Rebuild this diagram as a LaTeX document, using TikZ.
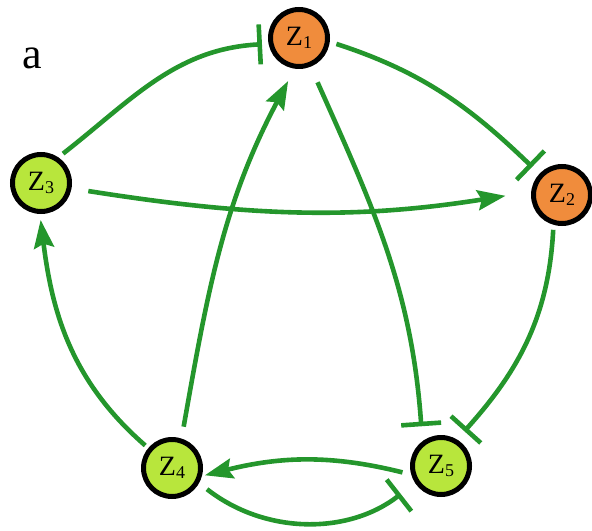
\documentclass[tikz,border=0pt]{standalone}
\usepackage{fontspec}
\setmainfont{LiberationSerif}[Extension=.ttf, UprightFont=*-Regular, BoldFont=*-Bold, ItalicFont=*-Italic]
\usepackage{xcolor}
\usepackage{tikz}
\usetikzlibrary{arrows.meta}
\definecolor{edgegreen}{RGB}{36,150,44}
\definecolor{zorange}{RGB}{240,140,60}
\definecolor{zlime}{RGB}{184,230,60}
\tikzstyle{activate} = [edgegreen, line width=2.3pt, -{Stealth[length=14pt,width=10pt,inset=2pt]}]
\tikzstyle{inhibit} = [edgegreen, line width=2.3pt, -{Bar[width=20pt,line width=2.3pt]}]
\newcommand{\zlabel}[1]{Z\raisebox{-0.2ex}{\fontsize{9}{9}\selectfont #1}}

\begin{document}
\begin{tikzpicture}[
    x=0.5pt, y=0.5pt,
    gene/.style={circle, draw=black, line width=2.5pt, minimum size=28.5pt, inner sep=0pt, font=\fontsize{14}{14}\selectfont},
    panel/.style={font=\fontsize{22}{22}\selectfont}
  ]
    \useasboundingbox (0,0) rectangle (592,530);
    \node[panel] (lbl) at (32,472) {a};

    % genes
    \node[gene, fill=zorange] (z1) at (299,492) {\zlabel{1}};
    \node[gene, fill=zorange] (z2) at (562,335) {\zlabel{2}};
    \node[gene, fill=zlime] (z3) at (41,347) {\zlabel{3}};
    \node[gene, fill=zlime] (z4) at (172,62) {\zlabel{4}};
    \node[gene, fill=zlime] (z5) at (441,64) {\zlabel{5}};

    % outer ring
    \draw[inhibit, shorten <=3pt, shorten >=3.3pt] (z3.56) to[out=38, in=183] (z1.191);
    \draw[inhibit, shorten <=3.5pt, shorten >=5pt] (z1.-7) to[out=-18, in=136] (z2.137);
    \draw[inhibit, shorten <=2.5pt, shorten >=5.5pt] (z2.254) to[out=-93, in=48] (z5.59);
    \draw[activate, shorten <=2pt, shorten >=3pt] (z4.140) to[out=139, in=277] (z3.268);

    % inner links
    \draw[activate, shorten <=8.5pt, shorten >=13pt] (z3.-10) to[out=-9, in=189] (z2.174);
    \draw[inhibit, shorten <=8.5pt, shorten >=7.5pt] (z1.-68) to[out=-66, in=94] (z5.127);
    \draw[activate, shorten <=6pt, shorten >=7pt] (z4.72) to[out=80, in=242] (z1.262);

    % Z4 <-> Z5
    \draw[activate, shorten <=4.5pt, shorten >=1.5pt] (z5.196) to[out=166, in=14] (z4.-15);
    \draw[inhibit, shorten <=5pt, shorten >=9pt] (z4.-29) to[out=-38, in=218] (z5.213);
  \end{tikzpicture}
\end{document}
